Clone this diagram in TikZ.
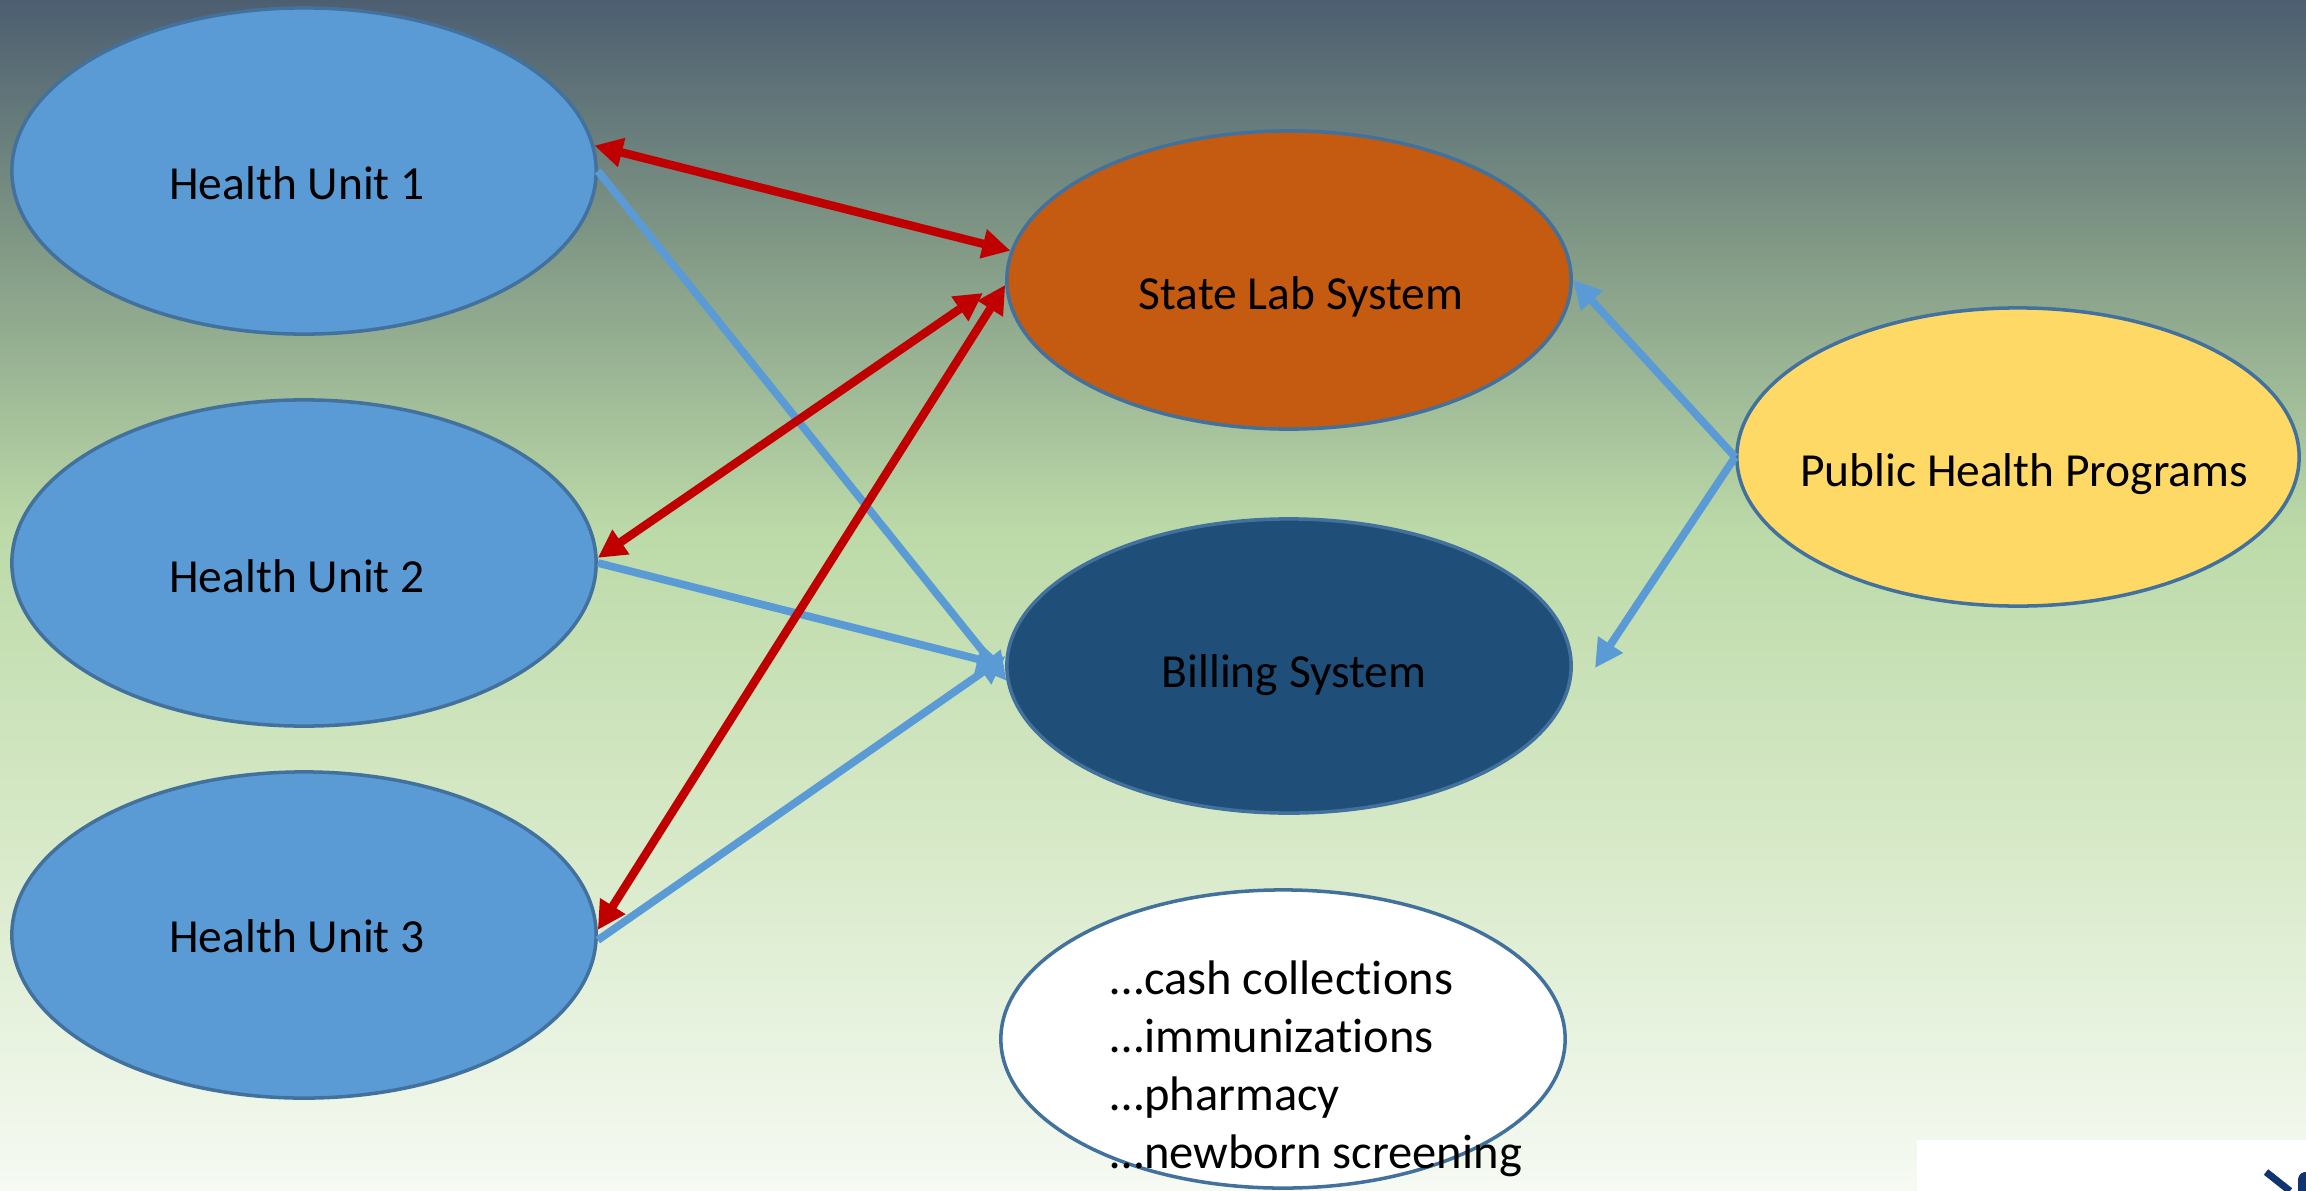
\documentclass[tikz,border=0pt]{standalone}
\usepackage{fontspec}
\setmainfont[Ligatures=NoCommon]{Carlito}
\usetikzlibrary{arrows.meta,shapes.geometric}
\definecolor{bgA}{HTML}{4C5E70}
\definecolor{bgB}{HTML}{829A86}
\definecolor{bgC}{HTML}{BCDAA8}
\definecolor{bgD}{HTML}{D8EAC9}
\definecolor{bgE}{HTML}{F6FAF3}
\definecolor{bord}{HTML}{41719C}
\definecolor{hublue}{HTML}{5B9BD5}
\definecolor{labor}{HTML}{C55A11}
\definecolor{billblue}{HTML}{1F4E79}
\definecolor{phyel}{HTML}{FFD966}
\definecolor{arrred}{HTML}{C00000}
\definecolor{arrblue}{HTML}{5B9BD5}
\definecolor{logonavy}{HTML}{0F3470}
\tikzset{
  oval/.style={ellipse, draw=bord, line width=1pt, inner sep=0pt},
  unitoval/.style={oval, fill=hublue, minimum width=5.84cm, minimum height=3.26cm},
  lbl/.style={anchor=base, inner sep=0pt, font=\fontsize{13.5pt}{16pt}\selectfont},
  lstlbl/.style={anchor=base west, inner sep=0pt, font=\fontsize{13.8pt}{16pt}\selectfont},
  redarr/.style={draw=arrred, line width=2.4pt, {Triangle[length=8pt,width=8pt]}-{Triangle[length=8pt,width=8pt]}},
  bluearr/.style={draw=arrblue, line width=2.2pt, -{Triangle[length=8pt,width=8pt]}}
}
\begin{document}
\begin{tikzpicture}[x=0.01cm,y=-0.01cm]
\useasboundingbox (0,0) rectangle (2306,1191);
% background
\shade[top color=bgA, bottom color=bgB] (0,0) rectangle (2306,251);
\shade[top color=bgB, bottom color=bgC] (0,250) rectangle (2306,531);
\shade[top color=bgC, bottom color=bgD] (0,530) rectangle (2306,851);
\shade[top color=bgD, bottom color=bgE] (0,850) rectangle (2306,1191);
% logo corner
\fill[white] (1917,1140) rectangle (2306,1191);
\draw[logonavy, line width=2pt] (2266,1172) -- (2290,1191);
\fill[logonavy] (2298,1191) -- (2298,1179) .. controls (2299,1174) and (2302,1172) .. (2306,1172) -- (2306,1191) -- cycle;
% nodes
\node[unitoval] (hu1) at (304,171) {};
\node[unitoval] (hu2) at (304,563) {};
\node[unitoval] (hu3) at (304,935) {};
\node[oval, fill=labor, minimum width=5.64cm, minimum height=2.98cm] (sl) at (1289,280) {};
\node[oval, fill=billblue, minimum width=5.64cm, minimum height=2.94cm] (bill) at (1289,666) {};
\node[oval, fill=phyel, minimum width=5.62cm, minimum height=2.98cm] (php) at (2018,457) {};
\node[oval, fill=white, minimum width=5.64cm, minimum height=2.98cm] (misc) at (1283,1039) {};
% labels
\node[lbl] (hu1t) at (297,200) {Health Unit 1};
\node[lbl] (hu2t) at (297,592) {Health Unit 2};
\node[lbl] (hu3t) at (297,952) {Health Unit 3};
\node[lbl] (slt) at (1301,309) {State Lab System};
\node[lbl] (billt) at (1294,687) {Billing System};
\node[lbl] (phpt) at (2024,486) {Public Health Programs};
\node[lstlbl] (l1) at (1110,994) {…cash collections};
\node[lstlbl] (l2) at (1110,1052) {…immunizations};
\node[lstlbl] (l3) at (1110,1110) {…pharmacy};
\node[lstlbl] (l4) at (1110,1168) {…newborn screening};
% free ends
\coordinate (r2end) at (983,293);
\coordinate (b2end) at (1595,668);
% connectors
\draw[bluearr] (hu1.0) -- (bill.183);
\draw[bluearr] (hu2.0) -- (bill.180);
\draw[bluearr] (hu3.-1) -- (bill.178);
\draw[redarr] (hu1.5.5) -- (sl.174.5);
\draw[redarr] (hu2.1) -- (r2end);
\draw[redarr] (hu3.1) -- (sl.181);
\draw[bluearr] (php.west) -- (sl.east);
\draw[bluearr] (php.west) -- (b2end);
\end{tikzpicture}
\end{document}
